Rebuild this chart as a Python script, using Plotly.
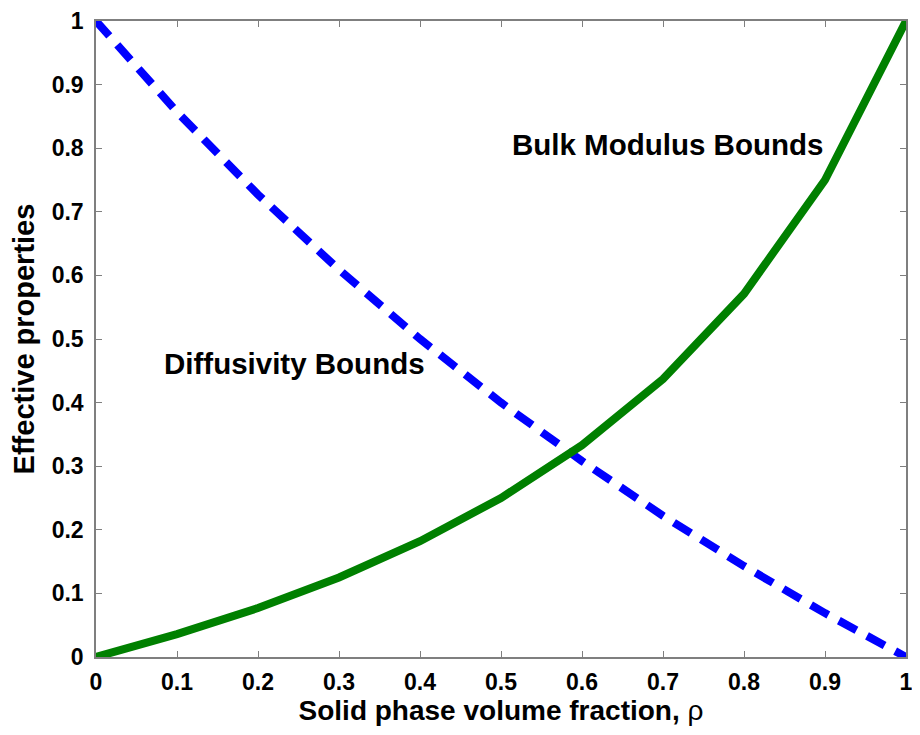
import plotly.graph_objects as go

# Data
volume_fraction = [0, 0.1, 0.2, 0.3, 0.4, 0.5, 0.6, 0.7, 0.8, 0.9, 1.0]
bulk_modulus = [0, 0.036, 0.077, 0.125, 0.182, 0.25, 0.333, 0.437, 0.571, 0.75, 1.0]
diffusivity = [1.0, 0.857, 0.727, 0.609, 0.5, 0.4, 0.308, 0.222, 0.143, 0.069, 0]

tick_vals = [0, 0.1, 0.2, 0.3, 0.4, 0.5, 0.6, 0.7, 0.8, 0.9, 1]
tick_text = ["0", "0.1", "0.2", "0.3", "0.4", "0.5", "0.6", "0.7", "0.8", "0.9", "1"]

FONT = "Liberation Sans, Arial, sans-serif"

fig = go.Figure()
fig.add_trace(go.Scatter(
    x=volume_fraction, y=diffusivity, mode="lines",
    line=dict(color="#0000ff", width=8, dash="20px,12px"),
    showlegend=False, cliponaxis=False,
))
fig.add_trace(go.Scatter(
    x=volume_fraction, y=bulk_modulus, mode="lines",
    line=dict(color="#008000", width=8),
    showlegend=False, cliponaxis=False,
))

axis_common = dict(
    range=[0, 1], tickvals=tick_vals, ticktext=tick_text,
    ticks="inside", ticklen=6, tickwidth=1.2, tickcolor="#7f7f7f",
    showline=True, linecolor="#7f7f7f", linewidth=1.5, mirror="ticks",
    showgrid=False, zeroline=False,
    tickfont=dict(family=FONT, size=23, color="black", weight="bold"),
    ticklabeloverflow="allow",
    automargin=False,
)

fig.update_xaxes(
    **axis_common,
    ticklabelstandoff=4,
    title=dict(text="<b>Solid phase volume fraction, </b>ρ",
               font=dict(family=FONT, size=28, color="black"), standoff=0),
)
fig.update_yaxes(
    **axis_common,
    ticklabelstandoff=6,
    title=dict(text="Effective properties",
               font=dict(family=FONT, size=29, color="black", weight="bold"), standoff=12),
)

fig.add_annotation(x=0.081, y=0.462, xref="x", yref="y", text="Diffusivity Bounds",
                   showarrow=False, xanchor="left", yanchor="middle",
                   font=dict(family=FONT, size=29.5, color="black", weight="bold"))
fig.add_annotation(x=0.511, y=0.806, xref="x", yref="y", text="Bulk Modulus Bounds",
                   showarrow=False, xanchor="left", yanchor="middle",
                   font=dict(family=FONT, size=29.5, color="black", weight="bold"))

fig.update_layout(
    width=904, height=719,
    margin=dict(l=88, r=6, t=13, b=70),
    paper_bgcolor="white", plot_bgcolor="white",
)

fig.write_html("out.html")
